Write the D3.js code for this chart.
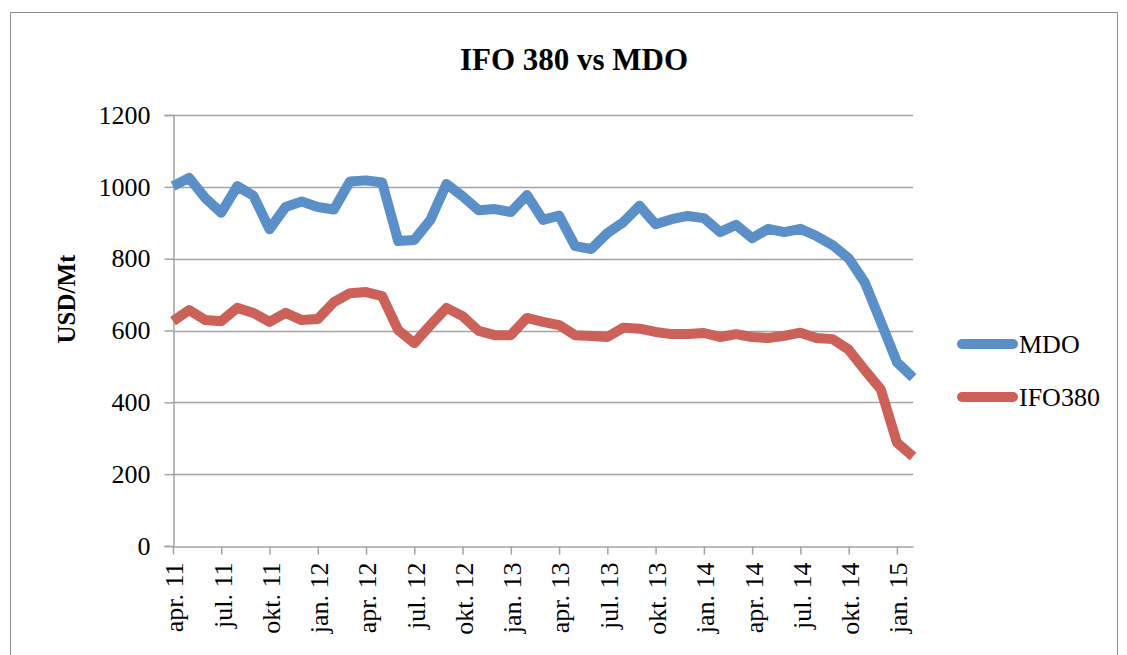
<!DOCTYPE html>
<html>
<head>
<meta charset="utf-8">
<script src="https://cdn.jsdelivr.net/npm/d3@7"></script>
<style>
  html, body { margin: 0; padding: 0; background: #fff; }
  svg { display: block; }
</style>
</head>
<body>
<svg id="chart" width="1127" height="655"></svg>
<script>
// monthly categories, apr. 2011 - feb. 2015
const months = [
  "apr. 11","mai. 11","jun. 11","jul. 11","aug. 11","sep. 11","okt. 11","nov. 11","des. 11",
  "jan. 12","feb. 12","mar. 12","apr. 12","mai. 12","jun. 12","jul. 12","aug. 12","sep. 12",
  "okt. 12","nov. 12","des. 12","jan. 13","feb. 13","mar. 13","apr. 13","mai. 13","jun. 13",
  "jul. 13","aug. 13","sep. 13","okt. 13","nov. 13","des. 13","jan. 14","feb. 14","mar. 14",
  "apr. 14","mai. 14","jun. 14","jul. 14","aug. 14","sep. 14","okt. 14","nov. 14","des. 14",
  "jan. 15","feb. 15"
];
// every third month gets a label
const tickLabels = ["apr. 11","jul. 11","okt. 11","jan. 12","apr. 12","jul. 12","okt. 12","jan. 13",
  "apr. 13","jul. 13","okt. 13","jan. 14","apr. 14","jul. 14","okt. 14","jan. 15"];
const yTicks = [0, 200, 400, 600, 800, 1000, 1200];

const mdo = [1002,1025,969,928,1002,975,882,944,959,944,937,1015,1018,1012,849,852,908,1008,
  974,935,938,930,977,908,920,835,827,871,902,947,896,910,919,913,874,894,857,883,874,883,
  863,838,801,734,624,512,469];
const ifo380 = [626,657,629,626,663,649,624,649,629,632,679,704,707,696,601,565,615,663,640,
  599,587,587,635,624,615,587,585,582,608,605,596,590,590,593,582,590,582,579,585,594,579,
  576,547,490,436,288,249];

const series = [
  { name: "MDO", values: mdo, color: "#5b8fc8" },
  { name: "IFO380", values: ifo380, color: "#cc6159" }
];

const W = 1127, H = 655;
const m = { top: 115, right: 214, bottom: 109, left: 173 };
const FONT = "'Liberation Serif', 'Times New Roman', serif";

const svg = d3.select("#chart");

// outer frame
svg.append("rect")
  .attr("x", 10.5).attr("y", 12.5)
  .attr("width", 1107).attr("height", 700)
  .attr("fill", "none").attr("stroke", "#8c8c8c").attr("stroke-width", 1);

const x = d3.scalePoint().domain(months).range([m.left, W - m.right]);
const y = d3.scaleLinear().domain([0, 1200]).range([H - m.bottom, m.top]);

// title
svg.append("text")
  .attr("x", 574).attr("y", 70)
  .attr("text-anchor", "middle")
  .style("font-family", FONT).style("font-size", "31px").style("font-weight", "bold")
  .text("IFO 380 vs MDO");

// gridlines
svg.append("g")
  .selectAll("line").data(yTicks.filter(d => d > 0)).join("line")
  .attr("x1", m.left).attr("x2", W - m.right)
  .attr("y1", d => Math.round(y(d)) + 0.5).attr("y2", d => Math.round(y(d)) + 0.5)
  .attr("stroke", "#a3a3a3").attr("stroke-width", 1.5);

// y axis
const yAxis = svg.append("g")
  .attr("transform", `translate(${m.left + 0.5},0)`)
  .call(d3.axisLeft(y).tickValues(yTicks).tickSize(9).tickPadding(14).tickFormat(d3.format("d")));
yAxis.select(".domain").attr("stroke", "#a3a3a3").attr("stroke-width", 1.5);
yAxis.selectAll(".tick line").attr("stroke", "#a3a3a3").attr("stroke-width", 1.5);
yAxis.selectAll(".tick text")
  .style("font-family", FONT).style("font-size", "26px").attr("fill", "#000");

// x axis
const xAxis = svg.append("g")
  .attr("transform", `translate(0,${H - m.bottom + 0.5})`)
  .call(d3.axisBottom(x).tickValues(tickLabels).tickSize(8).tickSizeOuter(0).tickFormat(d => d));
xAxis.select(".domain").attr("stroke", "#a3a3a3").attr("stroke-width", 1.5);
xAxis.selectAll(".tick line").attr("stroke", "#a3a3a3").attr("stroke-width", 1.5);
xAxis.selectAll(".tick text")
  .attr("transform", "translate(0,16) rotate(-90)")
  .attr("text-anchor", "end")
  .attr("x", 0).attr("y", 0).attr("dy", "0.38em").attr("dx", 0)
  .style("font-family", FONT).style("font-size", "26px").attr("fill", "#000");

// y axis title
svg.append("text")
  .attr("transform", "translate(75,299) rotate(-90)")
  .attr("text-anchor", "middle")
  .style("font-family", FONT).style("font-size", "25px").style("font-weight", "bold")
  .text("USD/Mt");

// lines
const line = d3.line()
  .x((d, i) => x(months[i]))
  .y(d => y(d));

svg.append("g")
  .selectAll("path").data(series).join("path")
  .attr("d", d => line(d.values))
  .attr("fill", "none")
  .attr("stroke", d => d.color)
  .attr("stroke-width", 10)
  .attr("stroke-linejoin", "round");

// legend
const leg = svg.append("g")
  .selectAll("g").data(series).join("g")
  .attr("transform", (d, i) => `translate(958,${344 + i * 53})`);
leg.append("line")
  .attr("x1", 4).attr("x2", 55).attr("y1", 0).attr("y2", 0)
  .attr("stroke", d => d.color).attr("stroke-width", 10).attr("stroke-linecap", "round");
leg.append("text")
  .attr("x", 61).attr("y", 0).attr("dy", "0.35em")
  .style("font-family", FONT).style("font-size", "26px")
  .text(d => d.name);
</script>
</body>
</html>
